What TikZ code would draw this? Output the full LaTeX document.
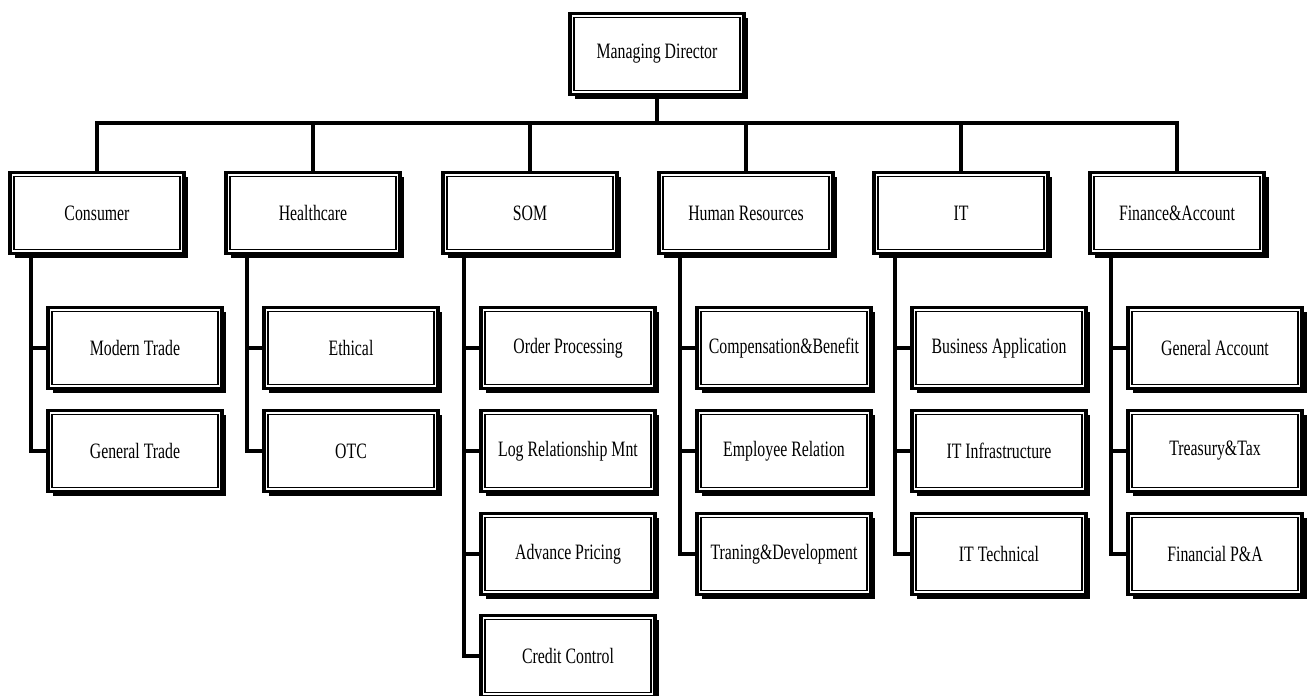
\documentclass[tikz,border=0pt]{standalone}
\usepackage{fontspec}
\setmainfont{Liberation Serif}[FakeStretch=0.72]
\usetikzlibrary{calc,shadows}

\tikzset{
    orgbox/.style={draw, line width=2pt, fill=white,
        minimum width=3.48cm, minimum height=1.62cm, inner sep=2pt,
        font=\fontsize{12.5}{14}\selectfont,
        drop shadow={shadow xshift=0.09cm, shadow yshift=-0.09cm, fill=black, opacity=1},
        path picture={\draw[line width=0.8pt]
            ([shift={(2.3pt,-2.3pt)}]path picture bounding box.north west) rectangle
            ([shift={(-2.3pt,2.3pt)}]path picture bounding box.south east);}},
    conn/.style={line width=2.3pt}
}

\begin{document}
\begin{tikzpicture}[x=0.02cm, y=-0.02cm]
    \useasboundingbox (0,0) rectangle (1311,696);

    \node[orgbox] (md) at (657,54) {Managing Director};

    \node[orgbox] (cons) at (97,213) {Consumer};
    \node[orgbox] (health) at (313,213) {Healthcare};
    \node[orgbox] (som) at (530,213) {SOM};
    \node[orgbox] (hr) at (746,213) {Human Resources};
    \node[orgbox] (it) at (961,213) {IT};
    \node[orgbox] (fin) at (1177,213) {Finance\&Account};

    % Consumer
    \node[orgbox] (mtrade) at (135,348) {Modern Trade};
    \node[orgbox] (gtrade) at (135,451) {General Trade};
    % Healthcare
    \node[orgbox] (ethic) at (351,348) {Ethical};
    \node[orgbox] (otc) at (351,451) {OTC};
    % SOM
    \node[orgbox] (order) at (568,348) {Order Processing};
    \node[orgbox] (logrel) at (568,451) {Log Relationship Mnt};
    \node[orgbox] (price) at (568,554) {Advance Pricing};
    \node[orgbox] (credit) at (568,656) {Credit Control};
    % Human Resources
    \node[orgbox] (comp) at (784,348) {Compensation\&Benefit};
    \node[orgbox] (emprel) at (784,451) {Employee Relation};
    \node[orgbox] (train) at (784,554) {Traning\&Development};
    % IT
    \node[orgbox] (busapp) at (999,348) {Business Application};
    \node[orgbox] (infra) at (999,451) {IT Infrastructure};
    \node[orgbox] (tech) at (999,554) {IT Technical};
    % Finance
    \node[orgbox] (genacc) at (1215,348) {General Account};
    \node[orgbox] (treas) at (1215,451) {Treasury\&Tax};
    \node[orgbox] (fpa) at (1215,554) {Financial P\&A};

    \coordinate (bus) at (657,123);

    \draw[conn] (md.south) -- (bus);
    \draw[conn] (cons.north) |- (bus) -| (fin.north);
    \draw[conn] (health.north) -- (health.north |- bus);
    \draw[conn] (som.north) -- (som.north |- bus);
    \draw[conn] (hr.north) -- (hr.north |- bus);
    \draw[conn] (it.north) -- (it.north |- bus);

    \draw[conn] ($(cons.south west)+(23,0)$) |- (gtrade.west);
    \draw[conn] ($(cons.south west)+(23,0)$) |- (mtrade.west);
    \draw[conn] ($(health.south west)+(23,0)$) |- (otc.west);
    \draw[conn] ($(health.south west)+(23,0)$) |- (ethic.west);
    \draw[conn] ($(som.south west)+(23,0)$) |- (credit.west);
    \draw[conn] ($(som.south west)+(23,0)$) |- (price.west);
    \draw[conn] ($(som.south west)+(23,0)$) |- (logrel.west);
    \draw[conn] ($(som.south west)+(23,0)$) |- (order.west);
    \draw[conn] ($(hr.south west)+(23,0)$) |- (train.west);
    \draw[conn] ($(hr.south west)+(23,0)$) |- (emprel.west);
    \draw[conn] ($(hr.south west)+(23,0)$) |- (comp.west);
    \draw[conn] ($(it.south west)+(23,0)$) |- (tech.west);
    \draw[conn] ($(it.south west)+(23,0)$) |- (infra.west);
    \draw[conn] ($(it.south west)+(23,0)$) |- (busapp.west);
    \draw[conn] ($(fin.south west)+(23,0)$) |- (fpa.west);
    \draw[conn] ($(fin.south west)+(23,0)$) |- (treas.west);
    \draw[conn] ($(fin.south west)+(23,0)$) |- (genacc.west);
\end{tikzpicture}
\end{document}
